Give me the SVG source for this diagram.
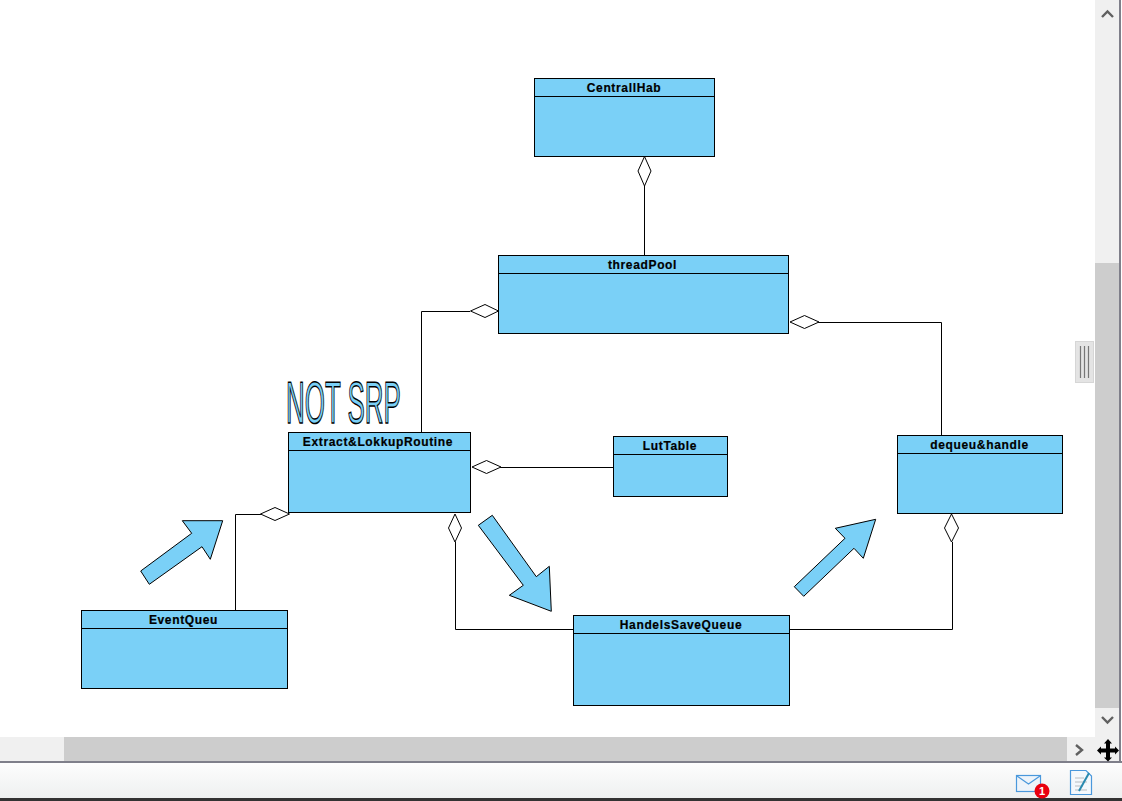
<svg xmlns="http://www.w3.org/2000/svg" width="1122" height="801" viewBox="0 0 1122 801">
<style>
.b{fill:#7ad0f7;stroke:#000;stroke-width:1}
.l{fill:none;stroke:#000;stroke-width:1}
.d{fill:#fff;stroke:#000;stroke-width:1}
.t{font-family:"Liberation Sans",Arial,sans-serif;font-size:12px;font-weight:700;fill:#000;stroke:#000;stroke-width:.2;text-anchor:middle;letter-spacing:.65px}
.a{fill:#7ad0f7;stroke:#000;stroke-width:1;stroke-linejoin:miter}
.bar{fill:#f0f0f0}
.thumb{fill:#cdcdcd}
.chev{fill:none;stroke:#606060;stroke-width:2.4}
</style>
<defs><linearGradient id="g" x1="0" y1="0" x2="0" y2="1"><stop offset="0" stop-color="#fdfdfd"/><stop offset="1" stop-color="#eef0f0"/></linearGradient></defs>
<rect width="1122" height="801" fill="#fff"/>
<g id="chrome">
<rect class="bar" x="1095" y="0" width="24" height="762"/>
<rect class="thumb" x="1095" y="263" width="24" height="445"/>
<rect class="bar" x="0" y="737" width="1119" height="25"/>
<rect class="thumb" x="64" y="737" width="1003" height="25"/>
<rect x="1119" y="0" width="3" height="762" fill="#fff"/>
<rect x="1119" y="0" width="2" height="762" fill="#7f7f8a"/>
<rect x="0" y="761" width="1122" height="2" fill="#7f7f8a"/>
<rect x="0" y="763" width="1122" height="35" fill="url(#g)"/>
<rect x="0" y="798" width="1122" height="3" fill="#333"/>
<path class="chev" d="M1102 17L1107.500 11.500L1113 17"/>
<path class="chev" d="M1102 717L1107.500 722.500L1113 717"/>
<path class="chev" d="M1076 745L1082 750L1076 755"/>
<rect x="1075.500" y="341.500" width="18" height="41" fill="#e4e4e4" stroke="#d6d6d6"/>
<path d="M1080.500 346V378M1084.500 346V378M1088.500 346V378" stroke="#777" stroke-width="1.200" fill="none"/>
<path d="M1108 739L1112 743.500H1110V748.500H1115V746.500L1119 750.500L1115 754.500V752.500H1110V757.500H1112L1108 761.500L1104 757.500H1106V752.500H1101V754.500L1097 750.500L1101 746.500V748.500H1106V743.500H1104Z" fill="#000"/>
<rect x="1016.500" y="775.500" width="24" height="16" fill="#eef4fa" stroke="#4a98dc" stroke-width="1.200"/>
<path d="M1017 776L1028.500 784L1040 776" fill="none" stroke="#4a98dc" stroke-width="1.200"/>
<circle cx="1042" cy="791" r="7.500" fill="#e8000f"/>
<text x="1042" y="795" font-family="Liberation Sans,sans-serif" font-size="11" font-weight="700" fill="#fff" text-anchor="middle">1</text>
<path d="M1070.500 770.500H1086L1091.500 776V794.500H1070.500Z" fill="#f4f8fc" stroke="#4a98dc" stroke-width="1.200"/>
<path d="M1075 778H1084M1075 782H1087M1075 786H1083M1075 790H1087" stroke="#b8bcc0" stroke-width="1"/>
<path d="M1079 791L1089 773" stroke="#2a8ab0" stroke-width="2" fill="none"/>
</g>
<g id="connectors">
<path class="l" d="M644.500 186V255.500"/>
<path class="d" d="M644.500 156.500L651 171L644.500 186L638 171Z"/>
<path class="l" d="M421.500 432.500V311.500H470"/>
<path class="d" d="M498.500 311L485 317.500L470.500 311L485 304.500Z"/>
<path class="l" d="M941.500 435.500V322.500H818"/>
<path class="d" d="M790 322L804.500 315.500L819 322L804.500 328.500Z"/>
<path class="l" d="M613.500 467.500H500"/>
<path class="d" d="M472 467L486.500 460.500L501 467L486.500 473.500Z"/>
<path class="l" d="M235.500 610.500V514.500H261"/>
<path class="d" d="M289.500 514L275 520.500L260.500 514L275 507.500Z"/>
<path class="l" d="M455.500 542V629.500H573.500"/>
<path class="d" d="M455 514L461.500 528L455 542L448.500 528Z"/>
<path class="l" d="M789.500 629.500H952.500V542"/>
<path class="d" d="M951.500 514L958.500 528L951.500 542L944.500 528Z"/>
</g>
<g id="CentrallHab"><rect class="b" x="534.500" y="78.500" width="180" height="78"/><path class="l" d="M534.500 96.500H714.500"/><text class="t" x="624" y="92">CentrallHab</text></g>
<g id="threadPool"><rect class="b" x="498.500" y="255.500" width="290" height="78"/><path class="l" d="M498.500 273.500H788.500"/><text class="t" x="642.500" y="269">threadPool</text></g>
<g id="ExtractLokkupRoutine"><rect class="b" x="288.500" y="432.500" width="182" height="80"/><path class="l" d="M288.500 450.500H470.500"/><text class="t" x="378" y="446">Extract&amp;LokkupRoutine</text></g>
<g id="LutTable"><rect class="b" x="613.500" y="436.500" width="114" height="60"/><path class="l" d="M613.500 454.500H727.500"/><text class="t" x="670" y="450">LutTable</text></g>
<g id="dequeuHandle"><rect class="b" x="897.500" y="435.500" width="165" height="78"/><path class="l" d="M897.500 453.500H1062.500"/><text class="t" x="979.500" y="449">dequeu&amp;handle</text></g>
<g id="EventQueu"><rect class="b" x="81.500" y="610.500" width="206" height="78"/><path class="l" d="M81.500 628.500H287.500"/><text class="t" x="183.500" y="624">EventQueu</text></g>
<g id="HandelsSaveQueue"><rect class="b" x="573.500" y="615.500" width="216" height="90"/><path class="l" d="M573.500 633.500H789.500"/><text class="t" x="681" y="629">HandelsSaveQueue</text></g>
<g id="arrows">
<polygon class="a" points="140.700,571 191.700,533.300 182.300,520.700 222.700,520.700 210.300,559.300 202,546.700 149.300,584.300"/>
<polygon class="a" points="478.300,525.300 492.300,515.300 536.300,576.700 549.300,566.300 551.300,611.300 509.300,595.300 523.300,585.300"/>
<polygon class="a" points="794.300,586.700 845,538.300 835.300,528.300 875.700,519.300 863.300,558.300 854,548.300 803.700,596.300"/>
</g>
<g id="notSrp" opacity="0.999"><text transform="translate(286 423) scale(0.81 1.85)" font-family="Liberation Sans,Arial,sans-serif" font-size="32" fill="#7ad0f7" stroke="#000" stroke-width="0.800" style="text-rendering:geometricPrecision">NOT SRP</text></g>
</svg>
